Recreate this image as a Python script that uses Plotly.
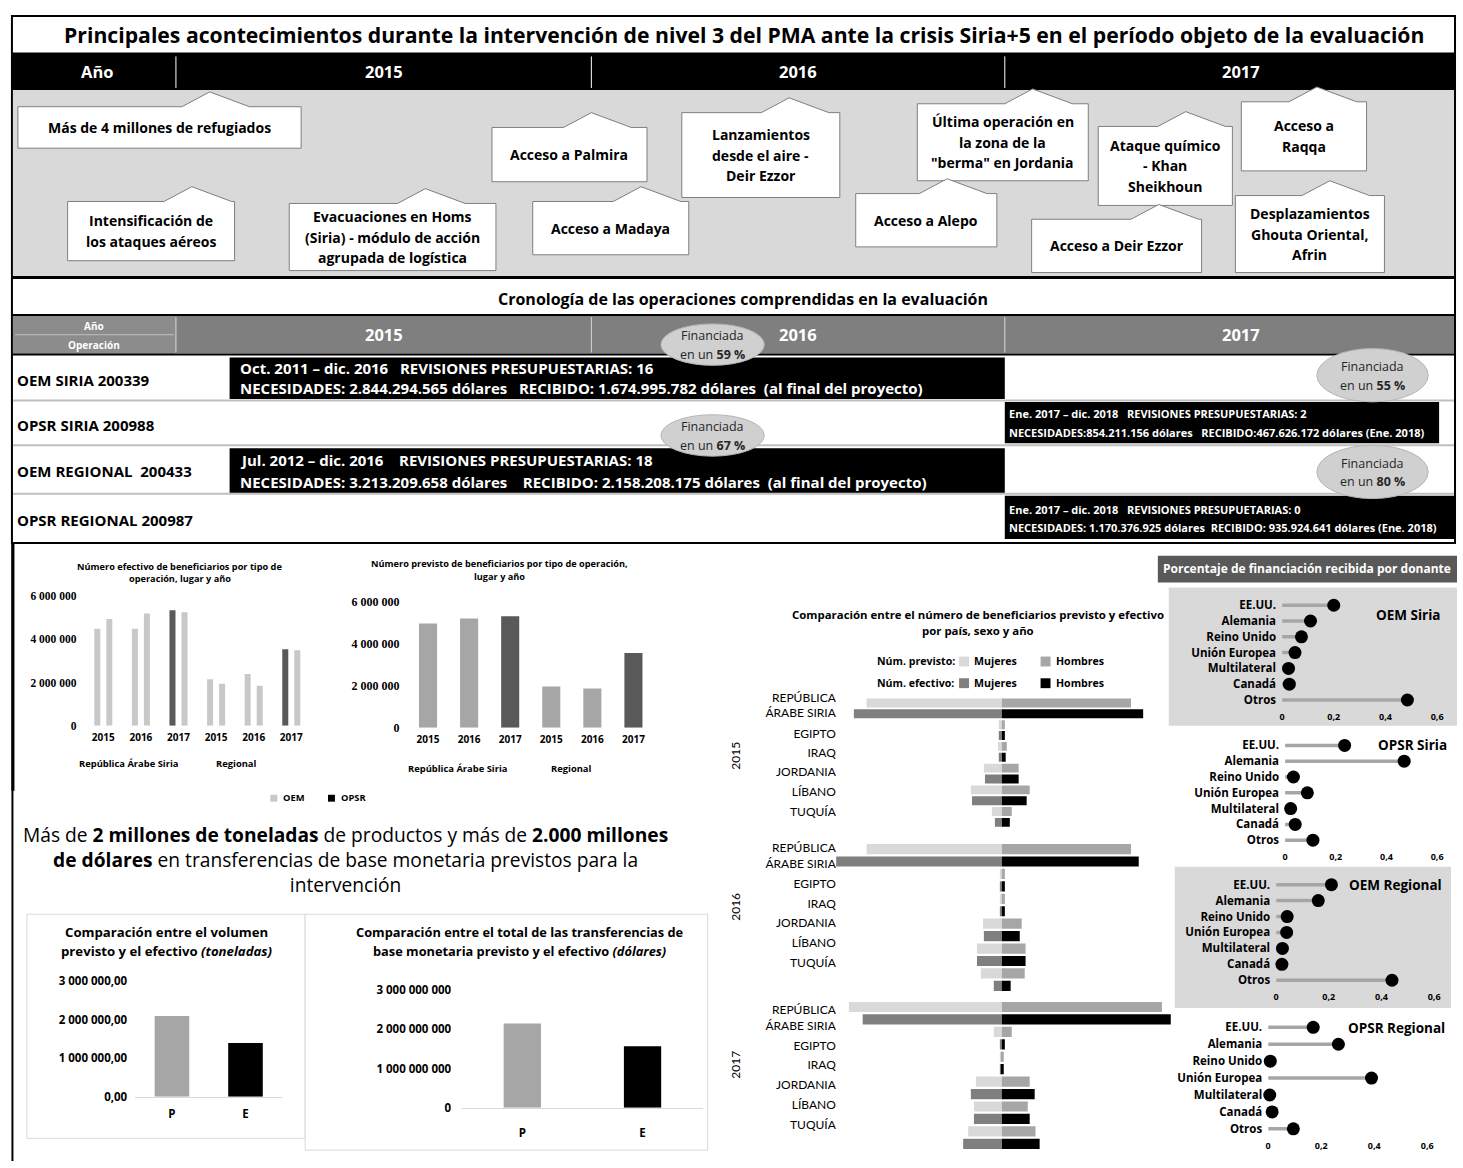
import plotly.graph_objects as go

W, H = 1463, 1168
FONT = "Open Sans"
FONT_LBL = "Lato"

# ---------------- data ----------------
anios = ["2015", "2016", "2017"]
lugares = ["República Árabe Siria", "Regional"]
ben_cat = anios * 2

# Número efectivo de beneficiarios (two bars per place/year)
ben_efectivo_izq = [4_500_000, 4_500_000, 5_360_000, 2_150_000, 2_400_000, 3_550_000]
ben_efectivo_izq_tipo = ["OEM", "OEM", "OPSR", "OEM", "OEM", "OPSR"]
ben_efectivo_der = [4_950_000, 5_200_000, 5_260_000, 1_950_000, 1_850_000, 3_500_000]
ben_efectivo_der_tipo = ["OEM", "OEM", "OEM", "OEM", "OEM", "OEM"]

# Número previsto de beneficiarios
ben_previsto = [4_980_000, 5_220_000, 5_330_000, 1_970_000, 1_870_000, 3_570_000]
ben_previsto_tipo = ["OEM", "OEM", "OPSR", "OEM", "OEM", "OPSR"]

# Previsto (P) vs efectivo (E)
comparacion_cat = ["P", "E"]
toneladas = [2_100_000, 1_400_000]
dolares_tbm = [2_150_000_000, 1_570_000_000]

# Beneficiaries by country, sex and year (thousands)
paises = ["REPÚBLICA<br>ÁRABE SIRIA", "EGIPTO", "IRAQ", "JORDANIA", "LÍBANO", "TUQUÍA"]
prev_mujeres = {
    "2015": [2450, 55, 70, 325, 560, 180],
    "2016": [2450, 35, 20, 340, 450, 380],
    "2017": [2770, 145, 35, 470, 505, 610],
}
prev_hombres = {
    "2015": [2340, 55, 90, 305, 505, 180],
    "2016": [2340, 55, 55, 360, 430, 415],
    "2017": [2900, 180, 35, 505, 470, 610],
}
efec_mujeres = {
    "2015": [2680, 55, 55, 305, 540, 125],
    "2016": [3000, 35, 20, 325, 450, 145],
    "2017": [2520, 35, 35, 560, 505, 700],
}
efec_hombres = {
    "2015": [2560, 55, 70, 305, 450, 145],
    "2016": [2480, 55, 55, 325, 430, 160],
    "2017": [3060, 55, 35, 595, 505, 685],
}

# Share of funding received by donor
donantes = ["EE.UU.", "Alemania", "Reino Unido", "Unión Europea", "Multilateral", "Canadá", "Otros"]
fin_oem_siria = [0.20, 0.11, 0.075, 0.05, 0.025, 0.028, 0.485]
fin_opsr_siria = [0.235, 0.47, 0.033, 0.088, 0.022, 0.04, 0.11]
fin_oem_regional = [0.21, 0.16, 0.042, 0.04, 0.024, 0.022, 0.44]
fin_opsr_regional = [0.17, 0.265, 0.008, 0.39, 0.006, 0.015, 0.095]

# ---------------- helpers ----------------
def fx(x):
    return x / W


def fy(y):
    return 1 - y / H


shapes = []
annotations = []


def rect(x0, y0, x1, y1, fill, line=None, lw=0):
    shapes.append(dict(type="rect", xref="paper", yref="paper",
                       x0=fx(x0), x1=fx(x1), y0=fy(y1), y1=fy(y0),
                       fillcolor=fill, line=dict(color=line or fill, width=lw),
                       layer="below"))


def line(x0, y0, x1, y1, color, w):
    shapes.append(dict(type="line", xref="paper", yref="paper",
                       x0=fx(x0), x1=fx(x1), y0=fy(y0), y1=fy(y1),
                       line=dict(color=color, width=w), layer="below"))


def ellipse(cx, cy, rx, ry, fill, border):
    shapes.append(dict(type="circle", xref="paper", yref="paper",
                       x0=fx(cx - rx), x1=fx(cx + rx), y0=fy(cy + ry), y1=fy(cy - ry),
                       fillcolor=fill, line=dict(color=border, width=1), layer="below"))


def text(x, y, s, size, color="#000000", anchor="center", family=FONT, angle=0):
    annotations.append(dict(xref="paper", yref="paper", x=fx(x), y=fy(y), text=s,
                            showarrow=False, xanchor=anchor, yanchor="middle",
                            textangle=angle, align="left" if anchor == "left" else "center",
                            font=dict(size=size, color=color, family=family)))


def callout(lines_, x0, y0, x1, y1, peak):
    pts = [(x0, y0), (peak - 28, y0), (peak, y0 - 15), (peak + 40, y0),
           (x1, y0), (x1, y1), (x0, y1)]
    path = "M " + " L ".join(f"{fx(a):.5f},{fy(b):.5f}" for a, b in pts) + " Z"
    shapes.append(dict(type="path", xref="paper", yref="paper", path=path,
                       fillcolor="#ffffff", line=dict(color="#7f7f7f", width=1),
                       layer="below"))
    yc = (y0 + y1) / 2
    n = len(lines_)
    for i, t in enumerate(lines_):
        text((x0 + x1) / 2, yc + (i - (n - 1) / 2) * 21, f"<b>{t}</b>", 14)


NB = "\u00a0"

# ---------------- top section: timeline ----------------
rect(9, 8, 1461, 542, "#ffffff", "#000000", 2)
text(746, 27, "<b>Principales acontecimientos durante la intervención de nivel 3 del PMA "
              "ante la crisis Siria+5 en el período objeto de la evaluación</b>", 21.2)
rect(9, 45, 1461, 83, "#000000")
for xs in (174, 592, 1008):
    line(xs, 49, xs, 81, "#ffffff", 1)
text(95, 64, "<b>Año</b>", 16.5, "#ffffff")
for xc, yr in zip((383, 800, 1246), anios):
    text(xc, 64, f"<b>{yr}</b>", 16.5, "#ffffff")
rect(10, 83, 1460, 272, "#d9d9d9")
line(9, 273, 1461, 273, "#000000", 3)

callout(["Más de 4 millones de refugiados"], 15, 100, 300, 142, 208)
callout(["Intensificación de", "los ataques aéreos"], 65, 196, 233, 256, 190)
callout(["Evacuaciones en Homs", "(Siria) - módulo de acción", "agrupada de logística"],
        288, 198, 496, 266, 425)
callout(["Acceso a Palmira"], 492, 121, 648, 176, 592)
callout(["Acceso a Madaya"], 533, 196, 690, 250, 642)
callout(["Lanzamientos", "desde el aire -", "Deir Ezzor"], 683, 106, 842, 192, 791)
callout(["Última operación en", "la zona de la", "\"berma\" en Jordania"], 920, 97, 1092, 175, 1036)
callout(["Acceso a Alepo"], 858, 188, 1000, 242, 950)
callout(["Ataque químico", "- Khan", "Sheikhoun"], 1102, 120, 1237, 200, 1190)
callout(["Acceso a Deir Ezzor"], 1035, 214, 1206, 268, 1163)
callout(["Acceso a", "Raqqa"], 1246, 95, 1372, 165, 1322)
callout(["Desplazamientos", "Ghouta Oriental,", "Afrin"], 1240, 190, 1390, 268, 1335)

# ---------------- operations chronology ----------------
text(745, 295, "<b>Cronología de las operaciones comprendidas en la evaluación</b>", 16)
line(9, 311, 1461, 311, "#000000", 2)
rect(10, 312, 1460, 350, "#7f7f7f")
rect(10, 312, 174, 350, "#8c8c8c")
line(12, 331, 172, 331, "#bfbfbf", 1)
text(92, 322, "<b>Año</b>", 10, "#ffffff")
text(92, 341, "<b>Operación</b>", 10, "#ffffff")
for xs in (174, 592, 1008):
    line(xs, 313, xs, 349, "#d9d9d9", 1)
for xc, yr in zip((383, 800, 1246), anios):
    text(xc, 331, f"<b>{yr}</b>", 16.5, "#ffffff")
line(9, 351, 1461, 351, "#000000", 2)

for ysep in (397.5, 443, 492):
    line(10, ysep, 1460, ysep, "#bfbfbf", 2)
line(9, 542, 1461, 542, "#000000", 2)

operaciones = ["OEM SIRIA 200339", "OPSR SIRIA 200988", f"OEM REGIONAL {NB}200433", "OPSR REGIONAL 200987"]
for yy, op in zip((377, 422, 469, 519), operaciones):
    text(12, yy, f"<b>{op}</b>", 15, anchor="left")

rect(228, 354, 1008, 396, "#000000")
text(236, 365, f"<b>Oct. 2011 – dic. 2016{NB*3}REVISIONES PRESUPUESTARIAS: 16</b>", 15, "#ffffff", "left")
text(236, 385, f"<b>NECESIDADES: 2.844.294.565 dólares{NB*3}RECIBIDO: 1.674.995.782 dólares{NB*2}(al final del proyecto)</b>",
     15, "#ffffff", "left")
rect(1008, 399, 1445, 441, "#000000")
text(1010, 411, f"<b>Ene. 2017 – dic. 2018{NB*3}REVISIONES PRESUPUESTARIAS: 2</b>", 11, "#ffffff", "left")
text(1010, 430, f"<b>NECESIDADES:854.211.156 dólares{NB*3}RECIBIDO:467.626.172 dólares (Ene. 2018)</b>",
     11, "#ffffff", "left")
rect(228, 446, 1008, 491, "#000000")
text(236, 458, f"<b>Jul. 2012 – dic. 2016{NB*4}REVISIONES PRESUPUESTARIAS: 18</b>", 15, "#ffffff", "left")
text(236, 480, f"<b>NECESIDADES: 3.213.209.658 dólares{NB*4}RECIBIDO: 2.158.208.175 dólares{NB*2}(al final del proyecto)</b>",
     15, "#ffffff", "left")
rect(1008, 494, 1462, 538, "#000000")
text(1010, 508, f"<b>Ene. 2017 – dic. 2018{NB*3}REVISIONES PRESUPUETARIAS: 0</b>", 11, "#ffffff", "left")
text(1010, 526, f"<b>NECESIDADES: 1.170.376.925 dólares{NB*2}RECIBIDO: 935.924.641 dólares (Ene. 2018)</b>",
     11, "#ffffff", "left")

for cx, cy, rx, ry, pct in ((714, 341, 52, 21, "59"), (714, 433, 52, 21, "67"),
                            (1378, 372, 56, 27, "55"), (1378, 470, 56, 27, "80")):
    ellipse(cx, cy, rx, ry, "#d0d0d0", "#b5b5b5")
    text(cx, cy - 9, "Financiada", 12.5, "#262626")
    text(cx, cy + 10, f"en un <b>{pct} %</b>", 12.5, "#262626")

# left border of the lower part
line(9.5, 542, 9.5, 1168, "#000000", 2)
line(10, 542, 10, 793, "#000000", 3)

# ---------------- axes ----------------
axes = {}


def add_axes(n, xd, yd, xa, ya):
    s = "" if n == 1 else str(n)
    base = dict(showgrid=False, zeroline=False, showline=False, ticks="", fixedrange=True)
    axes["xaxis" + s] = dict(base, domain=[fx(xd[0]), fx(xd[1])], anchor="y" + s, **xa)
    axes["yaxis" + s] = dict(base, domain=[fy(yd[1]), fy(yd[0])], anchor="x" + s, **ya)
    return "x" + s, "y" + s


fig = go.Figure()

bold = dict(family=FONT, weight="bold", color="#000000")
serif_ticks = dict(family="Liberation Serif", weight="bold", color="#000000")

# Chart 1: número efectivo
c1_col = {"OEM": "#c8c8c8", "OPSR": "#595959"}
x1, y1 = add_axes(1, (82, 309), (596, 727),
                  dict(range=[-0.5, 5.5], tickvals=list(range(6)), ticktext=ben_cat,
                       tickfont=dict(bold, size=10), ticklabelstandoff=4),
                  dict(range=[0, 6_000_000], tickvals=[0, 2e6, 4e6, 6e6], tickformat=",",
                       tickfont=dict(serif_ticks, size=11.5), ticklabelstandoff=7))
fig.add_bar(x=list(range(6)), y=ben_efectivo_izq, width=0.16, offset=-0.24,
            marker=dict(color=[c1_col[t] for t in ben_efectivo_izq_tipo], line_width=0),
            xaxis=x1, yaxis=y1, showlegend=False)
fig.add_bar(x=list(range(6)), y=ben_efectivo_der, width=0.16, offset=0.08,
            marker=dict(color=[c1_col[t] for t in ben_efectivo_der_tipo], line_width=0),
            xaxis=x1, yaxis=y1, showlegend=False)
text(178, 566, "<b>Número efectivo de beneficiarios por tipo de</b>", 9.2)
text(178, 578, "<b>operación, lugar y año</b>", 9.2)
text(127, 765, f"<b>{lugares[0]}</b>", 9.4)
text(235, 765, f"<b>{lugares[1]}</b>", 9.4)

# Chart 2: número previsto
c2_col = {"OEM": "#a6a6a6", "OPSR": "#595959"}
x2, y2 = add_axes(2, (407, 655), (602, 729),
                  dict(range=[-0.5, 5.5], tickvals=list(range(6)), ticktext=ben_cat,
                       tickfont=dict(bold, size=10), ticklabelstandoff=4),
                  dict(range=[0, 6_000_000], tickvals=[0, 2e6, 4e6, 6e6], tickformat=",",
                       tickfont=dict(serif_ticks, size=12), ticklabelstandoff=7))
fig.add_bar(x=list(range(6)), y=ben_previsto, width=0.44,
            marker=dict(color=[c2_col[t] for t in ben_previsto_tipo], line_width=0),
            xaxis=x2, yaxis=y2, showlegend=False)
text(500, 563, "<b>Número previsto de beneficiarios por tipo de operación,</b>", 9.2)
text(500, 576, "<b>lugar y año</b>", 9.2)
text(458, 770, f"<b>{lugares[0]}</b>", 9.4)
text(572, 770, f"<b>{lugares[1]}</b>", 9.4)

# shared legend of the two beneficiary charts
rect(269, 797, 276, 804, "#c8c8c8")
text(280, 800, "<b>OEM</b>", 9.4, anchor="left")
rect(327, 797, 334, 804, "#000000")
text(338, 800, "<b>OPSR</b>", 9.4, anchor="left")

# Paragraph
text(345, 863,
     "Más de <b>2 millones de toneladas</b> de productos y más de <b>2.000 millones</b><br>"
     "<b>de dólares</b> en transferencias de base monetaria previstos para la<br>"
     "intervención", 19.2)

# Chart 3: toneladas
rect(24, 918, 304, 1145, "#ffffff", "#d9d9d9", 1)
x3, y3 = add_axes(3, (133, 281), (986, 1103),
                  dict(range=[-0.5, 1.5], type="category", categoryarray=comparacion_cat,
                       tickfont=dict(bold, size=11.5), showline=True, linecolor="#d9d9d9",
                       linewidth=1, ticklabelstandoff=6),
                  dict(range=[0, 3_000_000], tickvals=[0, 1e6, 2e6, 3e6], tickformat=",.2f",
                       tickfont=dict(bold, size=11.5), ticklabelstandoff=7))
fig.add_bar(x=comparacion_cat, y=toneladas, width=0.47,
            marker=dict(color=["#a6a6a6", "#000000"], line_width=0),
            xaxis=x3, yaxis=y3, showlegend=False)
text(165, 936, "<b>Comparación entre el volumen</b>", 13.2)
text(165, 955, "<b>previsto y el efectivo <i>(toneladas)</i></b>", 13.2)

# Chart 4: dólares
rect(304, 918, 709, 1157, "#ffffff", "#d9d9d9", 1)
x4, y4 = add_axes(4, (462, 704), (995, 1114),
                  dict(range=[-0.5, 1.5], type="category", categoryarray=comparacion_cat,
                       tickfont=dict(bold, size=11.5), showline=True, linecolor="#d9d9d9",
                       linewidth=1, ticklabelstandoff=15),
                  dict(range=[0, 3_000_000_000], tickvals=[0, 1e9, 2e9, 3e9], tickformat=",",
                       tickfont=dict(bold, size=11.5), ticklabelstandoff=10))
fig.add_bar(x=comparacion_cat, y=dolares_tbm, width=0.31,
            marker=dict(color=["#a6a6a6", "#000000"], line_width=0),
            xaxis=x4, yaxis=y4, showlegend=False)
text(520, 936, "<b>Comparación entre el total de las transferencias de</b>", 12.8)
text(520, 955, "<b>base monetaria previsto y el efectivo <i>(dólares)</i></b>", 12.8)

# Pyramid: previsto vs efectivo por país, sexo y año
text(981, 614, "<b>Comparación entre el número de beneficiarios previsto y efectivo</b>", 11.4)
text(981, 631, "<b>por país, sexo y año</b>", 11.4)
for yy, lab, cw, cm in ((662, "Núm. previsto:", "#d9d9d9", "#a6a6a6"),
                        (684, "Núm. efectivo:", "#7f7f7f", "#000000")):
    text(877, yy, f"<b>{lab}</b>", 10.6, anchor="left")
    rect(962, yy - 5, 972, yy + 5, cw)
    text(975, yy, "<b>Mujeres</b>", 10.6, anchor="left")
    rect(1044, yy - 5, 1054, yy + 5, cm)
    text(1058, yy, "<b>Hombres</b>", 10.6, anchor="left")

pyr_dom = {"2015": (698.5, 830.5), "2016": (845.7, 996.9), "2017": (1005.7, 1156.9)}
pyr_labpos = {"2015": [0.23, 2.8, 4.55, 6.36, 8.2, 10.0],
              "2016": [0.52, 2.78, 4.37, 5.95, 7.54, 9.13],
              "2017": [0.87, 3.1, 4.68, 6.27, 7.86, 9.44]}
pyr_year_y = {"2015": 757, "2016": 910, "2017": 1070}
filas_prev = [2 * i for i in range(len(paises))]
filas_efec = [2 * i + 1 for i in range(len(paises))]
for k, yr in enumerate(anios):
    xa, ya = add_axes(5 + k, (835, 1178), pyr_dom[yr],
                      dict(range=[-3060, 3114], showticklabels=False),
                      dict(range=[11.5, -0.5], tickvals=pyr_labpos[yr], ticktext=paises,
                           tickfont=dict(family=FONT_LBL, size=12, color="#000000"),
                           ticklabelstandoff=-4))
    for vals, rows, sign, col in ((prev_mujeres[yr], filas_prev, -1, "#d9d9d9"),
                                  (prev_hombres[yr], filas_prev, 1, "#a6a6a6"),
                                  (efec_mujeres[yr], filas_efec, -1, "#7f7f7f"),
                                  (efec_hombres[yr], filas_efec, 1, "#000000")):
        fig.add_bar(y=rows, x=[sign * v for v in vals], orientation="h", width=0.82,
                    marker=dict(color=col, line_width=0), xaxis=xa, yaxis=ya,
                    showlegend=False)
    text(737, pyr_year_y[yr], yr, 12, family=FONT_LBL, angle=-90)

# Donor funding dot plots
rect(1162, 555, 1463, 582, "#595959")
text(1312, 568, "<b>Porcentaje de financiación recibida por donante</b>", 12, "#ffffff")
rect(1173, 587, 1463, 727, "#d9d9d9")
rect(1179, 870, 1457, 1013, "#d9d9d9")

paneles = [
    (fin_oem_siria, "OEM Siria", (1287, 1443), (597, 709), (1414, 615)),
    (fin_opsr_siria, "OPSR Siria", (1290, 1443), (739, 851), (1418, 747)),
    (fin_oem_regional, "OEM Regional", (1281, 1440), (880, 993), (1401, 888)),
    (fin_opsr_regional, "OPSR Regional", (1273, 1433), (1024, 1144), (1402, 1033)),
]
filas_don = list(range(len(donantes)))
for k, (vals, nombre, xd, yd, tpos) in enumerate(paneles):
    xa, ya = add_axes(8 + k, xd, yd,
                      dict(range=[0, 0.6], tickvals=[0, 0.2, 0.4, 0.6],
                           tickfont=dict(bold, size=9), ticklabelstandoff=2),
                      dict(range=[6.5, -0.5], tickvals=filas_don, ticktext=donantes,
                           tickfont=dict(bold, size=11.5), ticklabelstandoff=5))
    lx, ly = [], []
    for v, r in zip(vals, filas_don):
        lx += [0, v, None]
        ly += [r, r, None]
    fig.add_scatter(x=lx, y=ly, mode="lines", line=dict(color="#a6a6a6", width=3.5),
                    xaxis=xa, yaxis=ya, showlegend=False, hoverinfo="skip", cliponaxis=False)
    fig.add_scatter(x=vals, y=filas_don, mode="markers",
                    marker=dict(color="#000000", size=13, line_width=0),
                    xaxis=xa, yaxis=ya, showlegend=False, cliponaxis=False)
    text(tpos[0], tpos[1], f"<b>{nombre}</b>", 13.5)

fig.update_layout(
    width=W, height=H, margin=dict(l=0, r=0, t=0, b=0),
    paper_bgcolor="#ffffff", plot_bgcolor="rgba(0,0,0,0)",
    barmode="overlay", separators=", ",
    font=dict(family=FONT, color="#000000"),
    shapes=shapes, annotations=annotations, showlegend=False,
    **axes,
)

fig.write_html("out.html", config={"displayModeBar": False})
